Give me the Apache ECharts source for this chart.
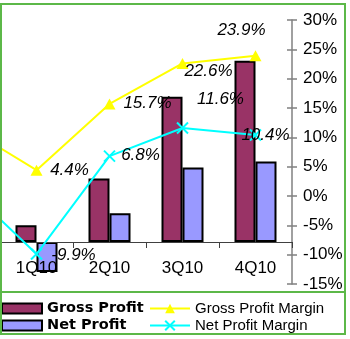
<!DOCTYPE html>
<html>
<head>
<meta charset="utf-8">
<script src="https://cdn.jsdelivr.net/npm/echarts@6/dist/echarts.min.js"></script>
<style>html,body{margin:0;padding:0;background:#fff}#c{width:350px;height:339px}</style>
</head>
<body>
<div id="c"></div>
<script>
var quarters = ['4Q09', '1Q10', '2Q10', '3Q10', '4Q10'];
var barQuarters = ['1Q10', '2Q10', '3Q10', '4Q10'];
var grossProfit = [14, 53, 121, 151];
var netProfit = [-25, 24, 62, 67];
var grossMargin = [12.0, 4.4, 15.7, 22.6, 23.9];
var netMargin = [2.0, -9.9, 6.8, 11.6, 10.4];
var marginTicks = [-15, 30, 5];
var grossLabelOffsets = [[0, 0], [33, 0], [38, -1], [26, 8], [-14, -26]];
var netLabelOffsets = [[0, 0], [37, 1], [31, -1], [38, -29], [10, 0]];

var FONT = 'Liberation Sans';
function pts(vals, offs) {
  return vals.map(function (v, i) {
    return {
      value: [barQuarters.indexOf(quarters[i]), v],
      label: { show: barQuarters.indexOf(quarters[i]) >= 0, offset: offs[i] }
    };
  });
}
var labelStyle = {
  show: true, position: 'inside', align: 'center', verticalAlign: 'middle',
  fontFamily: FONT, fontStyle: 'italic', fontSize: 17, color: '#000',
  formatter: function (p) { return p.value[1].toFixed(1) + '%'; }
};
var chart = echarts.init(document.getElementById('c'), null, { renderer: 'canvas' });
chart.setOption({
  animation: false,
  backgroundColor: '#fff',
  grid: [
    { left: 0, right: 58, top: 20, bottom: 97, containLabel: false },
    { left: 0, right: 58, top: 20, bottom: 55, containLabel: false }
  ],
  xAxis: [
    { type: 'category', gridIndex: 0, data: barQuarters, z: 3,
      axisLine: { onZero: false, lineStyle: { color: '#404040', width: 1 } },
      axisTick: { show: true, length: 6, lineStyle: { color: '#404040' } },
      axisLabel: { interval: 0, margin: 18, fontFamily: FONT, fontSize: 17, color: '#000' },
      splitLine: { show: false } },
    { type: 'value', gridIndex: 1, min: -0.5, max: 3.5, show: false,
      axisLine: { show: false, onZero: false } }
  ],
  yAxis: [
    { type: 'value', gridIndex: 0, min: 0, max: 185, show: false,
      axisLine: { show: false, onZero: false } },
    { type: 'value', gridIndex: 1, position: 'right', min: marginTicks[0], max: marginTicks[1], interval: marginTicks[2],
      axisLine: { show: true, onZero: false, lineStyle: { color: '#808080', width: 1.5 } },
      axisTick: { show: true, length: 5, lineStyle: { color: '#808080', width: 1.5 } },
      axisLabel: { margin: 11, fontFamily: FONT, fontSize: 17, color: '#000', formatter: '{value}%' },
      splitLine: { show: false } },
    { type: 'value', gridIndex: 1, position: 'right', min: marginTicks[0], max: marginTicks[1], interval: marginTicks[2],
      axisLine: { show: false, onZero: false },
      axisTick: { show: true, inside: true, length: 5, lineStyle: { color: '#808080', width: 1.5 } },
      axisLabel: { show: false },
      splitLine: { show: false } }
  ],
  legend: [
    { left: 1, top: 300, orient: 'vertical', padding: 0, itemWidth: 40, itemHeight: 10, itemGap: 0,
      textStyle: { fontFamily: 'DejaVu Sans', fontWeight: 'bold', fontSize: 14.5, lineHeight: 17, color: '#000' },
      data: [
        { name: 'Gross Profit', icon: 'rect', itemStyle: { borderColor: '#000', borderWidth: 2 } },
        { name: 'Net Profit', icon: 'rect', itemStyle: { borderColor: '#000', borderWidth: 2 } }
      ] },
    { left: 149, top: 300, orient: 'vertical', padding: 0, itemWidth: 40, itemHeight: 12, itemGap: 0,
      textStyle: { fontFamily: FONT, fontSize: 15, lineHeight: 17, color: '#000' },
      data: ['Gross Profit Margin', 'Net Profit Margin'] }
  ],
  series: [
    { name: 'Gross Profit', type: 'bar', xAxisIndex: 0, yAxisIndex: 0, data: grossProfit,
      barWidth: 21, barGap: '0%', clip: false,
      itemStyle: { color: '#993366', borderColor: '#000', borderWidth: 2 }, z: 2 },
    { name: 'Net Profit', type: 'bar', xAxisIndex: 0, yAxisIndex: 0, data: netProfit,
      barWidth: 21, barGap: '0%', clip: false,
      itemStyle: { color: '#9999FF', borderColor: '#000', borderWidth: 2 }, z: 2 },
    { name: 'Gross Profit Margin', type: 'line', xAxisIndex: 1, yAxisIndex: 1, data: pts(grossMargin, grossLabelOffsets),
      symbol: 'triangle', symbolSize: [12, 11], showAllSymbol: true, clip: true,
      lineStyle: { color: '#FFFF00', width: 2 },
      itemStyle: { color: '#FFFF00' },
      label: labelStyle, z: 4 },
    { name: 'Net Profit Margin', type: 'line', xAxisIndex: 1, yAxisIndex: 1, data: pts(netMargin, netLabelOffsets),
      symbol: 'path://M0,0L10,10M10,0L0,10', symbolSize: 11, showAllSymbol: true, clip: true,
      lineStyle: { color: '#00FFFF', width: 2 },
      itemStyle: { color: '#00FFFF', borderColor: '#00FFFF', borderWidth: 2 },
      label: labelStyle, z: 4 }
  ],
  graphic: [
    { type: 'rect', shape: { x: 1, y: 4, width: 344, height: 330 },
      style: { fill: null, stroke: '#5cb848', lineWidth: 2 }, z: 100, silent: true },
    { type: 'line', shape: { x1: 1, y1: 292, x2: 345, y2: 292 },
      style: { stroke: '#5cb848', lineWidth: 2 }, z: 100, silent: true }
  ]
});
</script>
</body>
</html>
